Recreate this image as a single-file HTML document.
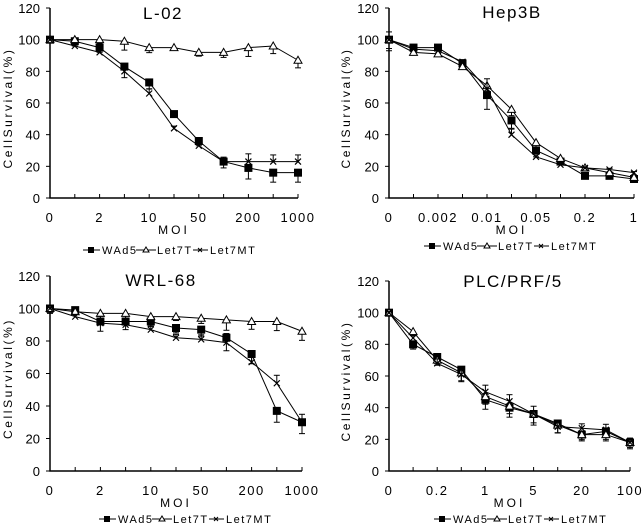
<!DOCTYPE html>
<html><head><meta charset="utf-8">
<style>
html,body{margin:0;padding:0;background:#fff;}
svg{display:block;font-family:"Liberation Sans","Noto Sans CJK SC",sans-serif;}
</style></head>
<body>
<svg id="fig" width="643" height="526" viewBox="0 0 643 526" xmlns="http://www.w3.org/2000/svg"></svg>
<script>
// ---- Data ----
const labelsL02 = ["0","","2","","10","","50","","200","","1000"];
const wad5L02 = [100,99,95,83,73,53,36,23,19,16,16];
const let7tL02 = [100,100,100,99,95,95,92,92,95,96,87];
const let7mtL02 = [100,96,92,80,66,44,33,23,23,23,23];
const errL02 = [2,3,3,7,4,2,3,4,7,6,6];

const labelsHep = ["0","","0.002","","0.01","","0.05","","0.2","","1"];
const wad5Hep = [100,95,95,85,65,49,30,23,14,14,12];
const let7tHep = [100,92,91,83,71,56,35,25,19,16,13];
const let7mtHep = [100,94,93,86,69,40,26,21,19,18,16];
const errHep = [7,2,2,2,9,5,4,2,1,1,1];

const labelsWrl = ["0","","2","","10","","50","","200","","1000"];
const wad5Wrl = [100,99,92,92,92,88,87,82,72,37,30];
const let7tWrl = [100,98,97,97,95,95,94,93,92,92,86];
const let7mtWrl = [100,95,91,90,87,82,81,79,67,54,30];
const errWrl = [3,2,6,5,3,3,4,8,6,7,7];

const labelsPlc = ["0","","0.2","","1","","5","","20","","100"];
const wad5Plc = [100,80,72,64,45,40,36,30,23,25,18];
const let7tPlc = [100,88,70,62,47,41,36,29,23,23,18];
const let7mtPlc = [100,84,68,61,50,44,36,28,27,26,18];
const errPlc = [1,3,4,7,6,6,7,6,4,5,4];

const yTicks = [0,20,40,60,80,100,120];

const NS = "http://www.w3.org/2000/svg";
const svg = document.getElementById("fig");
function mk(tag, attrs, parent){
  const e = document.createElementNS(NS, tag);
  for (const k in attrs) e.setAttribute(k, attrs[k]);
  (parent||svg).appendChild(e);
  return e;
}

function panel(cfg){
  const g = mk("g", {});
  
  
  const n = cfg.labels.length;
  const xs = i => cfg.x0 + (cfg.x1-cfg.x0)*i/(n-1);
  const ys = v => cfg.y0 - (cfg.y0-cfg.yTop)*v/120;
  const ax = mk("path", {d:`M${cfg.x0},${ys(120)} L${cfg.x0},${cfg.y0} L${cfg.x1},${cfg.y0}`, fill:"none", stroke:"#000","stroke-width":1.5}, g);
  
  
  yTicks.forEach(t=>{
    mk("line",{x1:cfg.x0-4,x2:cfg.x0,y1:ys(t),y2:ys(t),stroke:"#000","stroke-width":1},g);
    const tl = mk("text",{x:cfg.x0-10,y:ys(t)+5,"text-anchor":"end","font-size":13,fill:"#000"},g);
    tl.textContent = t;
    
    
  });
  cfg.labels.forEach((l,i)=>{
    if(i>0) mk("line",{x1:xs(i),x2:xs(i),y1:cfg.y0-4,y2:cfg.y0,stroke:"#000","stroke-width":1},g);
    if(l){
      const tl = mk("text",{x:xs(i),y:cfg.y0+24,"text-anchor":"middle","font-size":13,"letter-spacing":"1.5",fill:"#000"},g);
      tl.textContent = l;
      
      
    }
  });
  const title = mk("text",{x:cfg.tx,y:cfg.ty,"text-anchor":"middle","font-size":17,"letter-spacing":"1.5",fill:"#000"},g);
  title.textContent = cfg.title;
  
  
  const xl = mk("text",{x:(cfg.x0+cfg.x1)/2,y:cfg.y0+36,"text-anchor":"middle","font-size":12,"letter-spacing":"3",fill:"#000"},g);
  xl.textContent = "MOI";
  
  
  const ymid = (cfg.y0+ys(120))/2 + 5;
  const yl = mk("text",{x:cfg.ylx,y:ymid,"text-anchor":"middle","font-size":12,"letter-spacing":"2.6",fill:"#000",transform:`rotate(-90 ${cfg.ylx} ${ymid})`},g);
  yl.textContent = "CellSurvival(%)";
  
  

  const series = [
    {vals:cfg.wad5, mark:"sq", name:"series-wad5"},
    {vals:cfg.let7t, mark:"tri", name:"series-let7t"},
    {vals:cfg.let7mt, mark:"x", name:"series-let7mt"}
  ];
  series.forEach((s,si)=>{
    const sg = mk("g",{},g);
    
    
    const pts = s.vals.map((v,i)=>`${xs(i)},${ys(v)}`).join(" ");
    mk("polyline",{points:pts,fill:"none",stroke:"#000","stroke-width":1},sg);
    s.vals.forEach((v,i)=>{
      const e = cfg.err[i]*(si===0?1:(si===1?0.8:0.7));
      const x = xs(i), y = ys(v);
      const dir = si===2 ? 1 : -1;
      const ye = ys(v + dir*e);
      mk("line",{x1:x,x2:x,y1:y,y2:ye,stroke:"#000","stroke-width":1},sg);
      mk("line",{x1:x-3,x2:x+3,y1:ye,y2:ye,stroke:"#000","stroke-width":1},sg);
      let m;
      if(s.mark==="sq") m = mk("rect",{x:x-4,y:y-4,width:8,height:8,fill:"#000"},sg);
      else if(s.mark==="tri") m = mk("path",{d:`M${x},${y-4} L${x+4},${y+3} L${x-4},${y+3} Z`,fill:"#fff",stroke:"#000","stroke-width":1},sg);
      else m = mk("path",{d:`M${x-3},${y-3} L${x+3},${y+3} M${x+3},${y-3} L${x-3},${y+3}`,stroke:"#000","stroke-width":1.2},sg);
      
      
    });
  });
  // legend
  const lg = mk("g",{},g);
  
  
  const lx = cfg.lx, ly = cfg.ly;
  mk("line",{x1:lx,x2:lx+17,y1:ly,y2:ly,stroke:"#000"},lg);
  mk("rect",{x:lx+5,y:ly-3,width:6,height:6,fill:"#000"},lg);
  let t1 = mk("text",{x:lx+19,y:ly+4,"font-size":11,"letter-spacing":"1.5",fill:"#000"},lg); t1.textContent="WAd5";
  
  
  const l2 = lx+53;
  mk("line",{x1:l2,x2:l2+20,y1:ly,y2:ly,stroke:"#000"},lg);
  mk("path",{d:`M${l2+10},${ly-3} L${l2+13},${ly+2} L${l2+7},${ly+2} Z`,fill:"#fff",stroke:"#000"},lg);
  let t2 = mk("text",{x:l2+21,y:ly+4,"font-size":11,"letter-spacing":"1.5",fill:"#000"},lg); t2.textContent="Let7T";
  
  
  const l3 = lx+110;
  mk("line",{x1:l3,x2:l3+15,y1:ly,y2:ly,stroke:"#000"},lg);
  mk("path",{d:`M${l3+5},${ly-2} L${l3+9},${ly+2} M${l3+9},${ly-2} L${l3+5},${ly+2}`,stroke:"#000"},lg);
  let t3 = mk("text",{x:l3+17,y:ly+4,"font-size":11,"letter-spacing":"1.5",fill:"#000"},lg); t3.textContent="Let7MT";
  
  
}

panel({name:"panel-l02",title:"L-02",labels:labelsL02,wad5:wad5L02,let7t:let7tL02,let7mt:let7mtL02,err:errL02,
  x0:50,x1:298,y0:198,yTop:8,tx:163,ty:19,ylx:12,lx:83,ly:250});
panel({name:"panel-hep3b",title:"Hep3B",labels:labelsHep,wad5:wad5Hep,let7t:let7tHep,let7mt:let7mtHep,err:errHep,
  x0:389,x1:634,y0:198,yTop:8,tx:512,ty:18,ylx:350,lx:424,ly:246});
panel({name:"panel-wrl68",title:"WRL-68",labels:labelsWrl,wad5:wad5Wrl,let7t:let7tWrl,let7mt:let7mtWrl,err:errWrl,
  x0:50,x1:302,y0:471,yTop:276,tx:161,ty:286,ylx:12,lx:99,ly:519});
panel({name:"panel-plc-prf-5",title:"PLC/PRF/5",labels:labelsPlc,wad5:wad5Plc,let7t:let7tPlc,let7mt:let7mtPlc,err:errPlc,
  x0:389,x1:630,y0:471,yTop:281,tx:513,ty:287,ylx:350,lx:434,ly:519});
</script>
</body></html>
